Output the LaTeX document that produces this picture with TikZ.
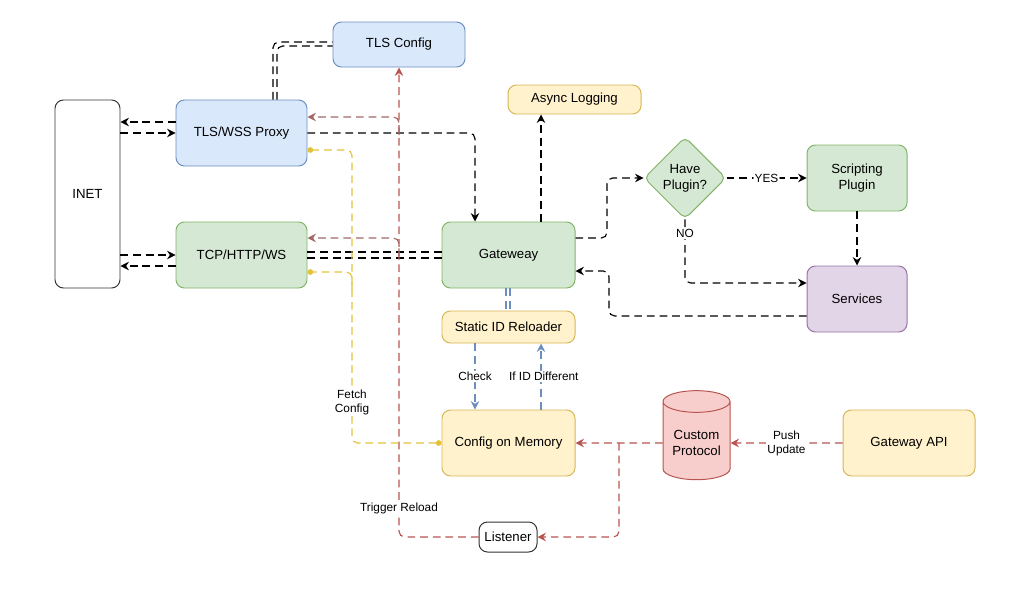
\documentclass[tikz,border=0pt]{standalone}
\usepackage{fontspec}
\setmainfont{Liberation Sans}
\usetikzlibrary{positioning,arrows.meta,shapes.geometric}
\definecolor{blueFill}{HTML}{DAE8FC}
\definecolor{blueLine}{HTML}{6C8EBF}
\definecolor{greenFill}{HTML}{D5E8D4}
\definecolor{greenLine}{HTML}{82B366}
\definecolor{yellowFill}{HTML}{FFF2CC}
\definecolor{yellowLine}{HTML}{D6B656}
\definecolor{yellowWire}{HTML}{E3C13A}
\definecolor{redFill}{HTML}{F8CECC}
\definecolor{redLine}{HTML}{B85450}
\definecolor{purpleFill}{HTML}{E1D5E7}
\definecolor{purpleLine}{HTML}{9673A6}
\tikzset{
  box/.style={draw, rounded corners=6pt, line width=0.7pt, align=center,
    inner sep=2pt, font=\fontsize{9.4}{11.5}\selectfont},
  bluebox/.style={box, fill=blueFill, draw=blueLine},
  greenbox/.style={box, fill=greenFill, draw=greenLine},
  yellowbox/.style={box, fill=yellowFill, draw=yellowLine},
  purplebox/.style={box, fill=purpleFill, draw=purpleLine},
  plainbox/.style={box, fill=white, draw=black!80},
  flow/.style={line width=0.8pt, dash pattern=on 5.5pt off 3.5pt, rounded corners=4pt,
    >={Stealth[length=6pt,width=6pt,inset=2pt]}},
  blueflow/.style={flow, draw=blueLine},
  redflow/.style={flow, draw=redLine},
  greyredflow/.style={flow, draw=redLine!55!gray},
  yelflow/.style={flow, draw=yellowWire, -{Circle[length=4pt]}},
  lbl/.style={fill=white, inner sep=1pt, align=center, font=\fontsize{8.4}{10}\selectfont}
}
\newcommand\flowbox[7]{%
  \node[#1, minimum width=#5*0.025cm, minimum height=#6*0.025cm] (#2) at (#3,#4) {#7}
}

\begin{document}
\begin{tikzpicture}[x=0.025cm, y=-0.025cm]
        \useasboundingbox (0,0) rectangle (1024,592);
        % The boxes
        \flowbox{plainbox}{inet}{87.5}{194}{65}{188}{INET};
        \flowbox{bluebox}{tlsproxy}{241.5}{133}{131}{66}{TLS/WSS Proxy};
        \flowbox{bluebox}{tlsconf}{399}{44.5}{132}{45}{TLS Config};
        \flowbox{greenbox}{tcpws}{241.5}{255}{131}{66}{TCP/HTTP/WS};
        \flowbox{greenbox}{gateway}{508.5}{255}{133}{66}{Gateweay};
        \flowbox{yellowbox}{asynclog}{574.5}{99.5}{133}{29}{Async Logging};
        \flowbox{greenbox}{scripting}{857}{178}{100}{66}{Scripting\\Plugin};
        \flowbox{purplebox}{services}{857}{299}{100}{66}{Services};
        \flowbox{yellowbox}{reloader}{508.5}{327}{133}{32}{Static ID Reloader};
        \flowbox{yellowbox}{cfgmem}{508.5}{443}{133}{66}{Config on Memory};
        \flowbox{yellowbox}{gwapi}{909}{443}{132}{66}{Gateway API};
        \flowbox{plainbox}{listener}{508}{537}{58}{30}{Listener};
        \node[greenbox, diamond, aspect=1, inner sep=0pt, rounded corners=4pt,
          minimum width=82*0.025cm, minimum height=82*0.025cm] (plugin) at (685,178) {Have\\Plugin?};
        \node[box, cylinder, shape border rotate=90, aspect=0.4, rounded corners=0pt,
          fill=redFill, draw=redLine, minimum width=67*0.025cm,
          minimum height=89*0.025cm] (custproto) at (696.5,443) {Custom\\Protocol};

        % Fork points
        \coordinate (proxyfork) at (399,135);
        \coordinate (tcpfork) at (399,256);
        \coordinate (fetchfork) at (352,290);
        \coordinate (listenfork) at (619,443);

        % Internet side
        \draw[flow,->] (tlsproxy.west |- 0,122) -- (inet.east |- 0,122);
        \draw[flow,->] (inet.east |- 0,133) -- (tlsproxy.west |- 0,133);
        \draw[flow,->] (inet.east |- 0,255) -- (tcpws.west |- 0,255);
        \draw[flow,->] (tcpws.west |- 0,266) -- (inet.east |- 0,266);
        \draw[flow] (tlsproxy.north -| 273,0) |- (tlsconf.west |- 0,42);
        \draw[flow] (tlsproxy.north -| 277,0) |- (tlsconf.west |- 0,46);

        % Gateway and plugins
        \draw[flow,->] (tlsproxy.east) -| (gateway.north -| 475,0);
        \draw[flow] (tcpws.east |- 0,252) -- (gateway.west |- 0,252);
        \draw[flow] (tcpws.east |- 0,258) -- (gateway.west |- 0,258);
        \draw[flow,->] (gateway.north -| 541,0) -- (asynclog.south -| 541,0);
        \draw[flow,->] (gateway.east |- 0,238) -| (607,178) -- (plugin.west);
        \draw[flow,->] (plugin.east) -- node[lbl]{YES} (scripting.west);
        \draw[flow,->] (plugin.south) |- node[lbl, pos=0.11]{NO} (services.west |- 0,283);
        \draw[flow,->] (scripting.south) -- (services.north);
        \draw[flow,->] (services.west |- 0,316) -| (609,271) -- (gateway.east |- 0,271);

        % Reloader
        \draw[blueflow] (gateway.south -| 506,0) -- (reloader.north -| 506,0);
        \draw[blueflow] (gateway.south -| 510,0) -- (reloader.north -| 510,0);
        \draw[blueflow,->] (reloader.south -| 475,0) -- node[lbl]{Check} (cfgmem.north -| 475,0);
        \draw[blueflow,->] (cfgmem.north -| 541,0) -- node[lbl, xshift=2pt]{If ID Different} (reloader.south -| 541,0);

        % Updates
        \draw[redflow,->] (gwapi.west) -- node[lbl]{Push\\Update} (custproto.east);
        \draw[redflow,->] (custproto.west) -- (cfgmem.east);
        \draw[redflow,->] (listenfork) |- (listener.east);
        \draw[redflow,->] (listener.west) -| node[lbl, pos=0.53]{Trigger Reload} (tlsconf.south);
        \draw[greyredflow,->] (proxyfork) |- (tlsproxy.east |- 0,117);
        \draw[greyredflow,->] (tcpfork) |- (tcpws.east |- 0,238);

        % Fetch config
        \draw[yelflow, {Circle[length=4pt]}-{Circle[length=4pt]}] (cfgmem.west) -| node[lbl, pos=0.57]{Fetch\\Config} (352,150) -- (tlsproxy.east |- 0,150);
        \draw[yelflow] (fetchfork) |- (tcpws.east |- 0,272);
\end{tikzpicture}
\end{document}
